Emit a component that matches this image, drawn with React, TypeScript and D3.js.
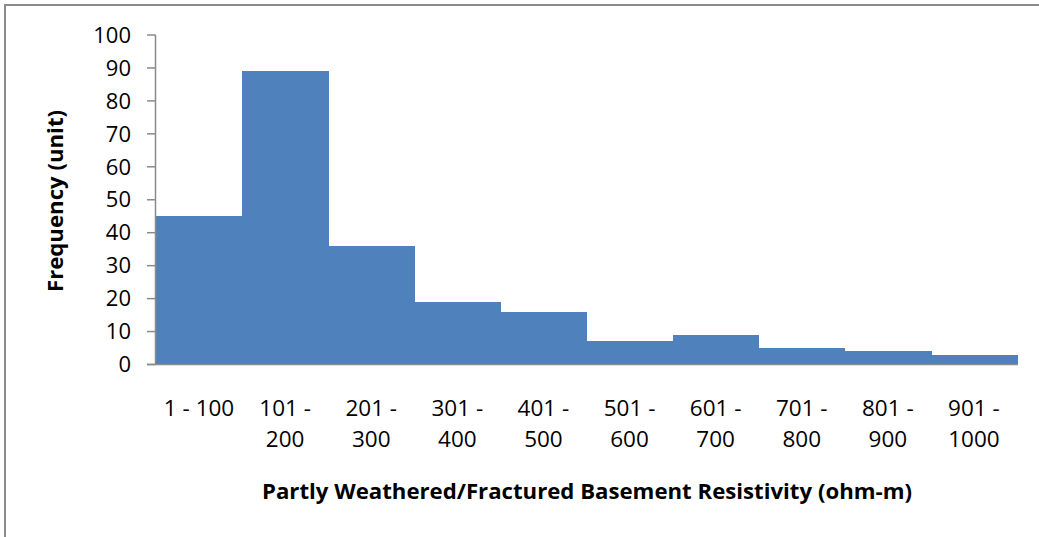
import React, { useEffect, useRef } from "react";
import * as d3 from "d3";

const categoriesLine1 = ["1 - 100", "101 -", "201 -", "301 -", "401 -", "501 -", "601 -", "701 -", "801 -", "901 -"];
const categoriesLine2 = ["", "200", "300", "400", "500", "600", "700", "800", "900", "1000"];
const frequency = [45, 89, 36, 19, 16, 7, 9, 5, 4, 3];
const yTicks = [0, 10, 20, 30, 40, 50, 60, 70, 80, 90, 100];
const xTitle = "Partly Weathered/Fractured Basement Resistivity (ohm-m)";
const yTitle = "Frequency (unit)";

const W = 1039;
const H = 537;
const FONT = "'Open Sans', 'Noto Sans', sans-serif";

export default function App() {
  const ref = useRef<SVGSVGElement | null>(null);

  useEffect(() => {
    const svg = d3.select(ref.current);
    svg.selectAll("*").remove();

    const left = 156;
    const right = 1017;
    const top = 35;
    const bottom = 364.5;

    svg.append("rect").attr("x", 0).attr("y", 0).attr("width", W).attr("height", H).attr("fill", "#fff");
    svg
      .append("rect")
      .attr("x", 5)
      .attr("y", 5)
      .attr("width", 1200)
      .attr("height", 700)
      .attr("fill", "none")
      .attr("stroke", "#8a8a8a")
      .attr("stroke-width", 2);

    const keys = categoriesLine1.map((_, i) => String(i));
    const x = d3.scaleBand<string>().domain(keys).range([left, right]).padding(0);
    const y = d3.scaleLinear().domain([0, 100]).range([bottom, top]);

    // bars
    svg
      .append("g")
      .attr("shape-rendering", "crispEdges")
      .selectAll("rect")
      .data(frequency)
      .join("rect")
      .attr("x", (_, i) => x(String(i))!)
      .attr("width", x.bandwidth() + 0.6)
      .attr("y", (d) => y(d))
      .attr("height", (d) => y(0) - y(d))
      .attr("fill", "#4F81BD");

    // y axis
    const ya = svg.append("g");
    ya.append("line")
      .attr("x1", left - 0.5)
      .attr("x2", left - 0.5)
      .attr("y1", y(100))
      .attr("y2", y(0))
      .attr("stroke", "#8a8a8a")
      .attr("stroke-width", 1.5);
    yTicks.forEach((t) => {
      ya.append("line")
        .attr("x1", left - 9)
        .attr("x2", left - 0.5)
        .attr("y1", y(t))
        .attr("y2", y(t))
        .attr("stroke", "#8a8a8a")
        .attr("stroke-width", 1.5);
      ya.append("text")
        .attr("x", 131)
        .attr("y", y(t))
        .attr("dy", "0.35em")
        .attr("text-anchor", "end")
        .attr("font-family", FONT)
        .attr("font-size", 22)
        .attr("fill", "#000")
        .text(String(t));
    });

    // x axis line
    svg
      .append("line")
      .attr("x1", left - 9)
      .attr("x2", right + 1)
      .attr("y1", y(0))
      .attr("y2", y(0))
      .attr("stroke", "#8a8a8a")
      .attr("stroke-width", 1.5);

    // category labels
    const xl = svg.append("g");
    categoriesLine1.forEach((c, i) => {
      const cx = x(String(i))! + x.bandwidth() / 2;
      xl.append("text")
        .attr("x", cx)
        .attr("y", 416)
        .attr("text-anchor", "middle")
        .attr("font-family", FONT)
        .attr("font-size", 22.5)
        .text(c);
      if (categoriesLine2[i]) {
        xl.append("text")
          .attr("x", cx)
          .attr("y", 447)
          .attr("text-anchor", "middle")
          .attr("font-family", FONT)
          .attr("font-size", 22.5)
          .text(categoriesLine2[i]);
      }
    });

    svg
      .append("text")
      .attr("x", 587)
      .attr("y", 499)
      .attr("text-anchor", "middle")
      .attr("font-family", FONT)
      .attr("font-weight", "bold")
      .attr("font-size", 22.2)
      .text(xTitle);

    svg
      .append("text")
      .attr("transform", `translate(63, 201) rotate(-90)`)
      .attr("text-anchor", "middle")
      .attr("font-family", FONT)
      .attr("font-weight", "bold")
      .attr("font-size", 22.2)
      .text(yTitle);
  }, []);

  return (
    <svg
      ref={ref}
      width={W}
      height={H}
      style={{ position: "absolute", left: 0, top: 0, display: "block" }}
    />
  );
}
